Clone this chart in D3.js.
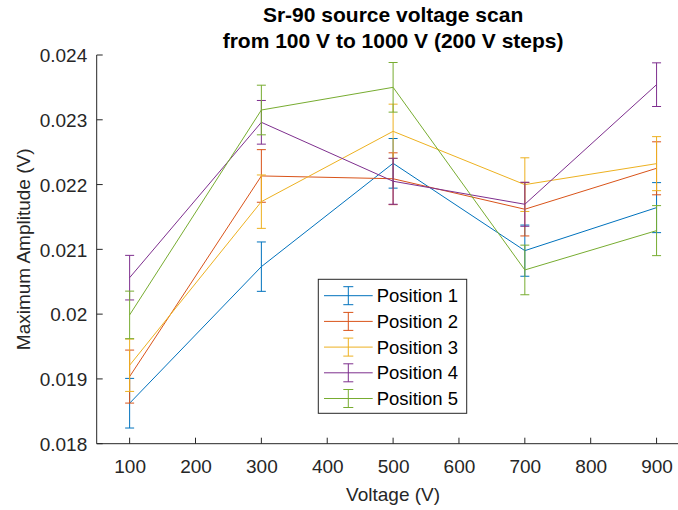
<!DOCTYPE html>
<html>
<head>
<meta charset="utf-8">
<script src="https://cdn.jsdelivr.net/npm/d3@7"></script>
<style>
  html, body { margin: 0; padding: 0; background: #fff; }
  svg { display: block; font-family: "Liberation Sans", Arial, Helvetica, sans-serif; }
</style>
</head>
<body>
<svg id="chart" width="678" height="510"></svg>
<script>
// ---- data ----
const voltages = [100, 300, 500, 700, 900];
const seriesNames = ["Position 1", "Position 2", "Position 3", "Position 4", "Position 5"];
const pos1 = [0.018625, 0.020733, 0.022328, 0.020980, 0.021644];
const err1 = [0.000383, 0.000381, 0.000383, 0.000395, 0.000386];
const pos2 = [0.019036, 0.022133, 0.022090, 0.021619, 0.022251];
const err2 = [0.000409, 0.000406, 0.000400, 0.000412, 0.000409];
const pos3 = [0.019211, 0.021736, 0.022822, 0.021999, 0.022323];
const err3 = [0.000404, 0.000412, 0.000419, 0.000414, 0.000417];
const pos4 = [0.020563, 0.022961, 0.022051, 0.021696, 0.023542];
const err4 = [0.000344, 0.000337, 0.000355, 0.000340, 0.000337];
const pos5 = [0.019988, 0.023151, 0.023501, 0.020682, 0.021289];
const err5 = [0.000367, 0.000383, 0.000383, 0.000383, 0.000386];
const xTicks = [100, 200, 300, 400, 500, 600, 700, 800, 900];
const yTicks = [0.018, 0.019, 0.020, 0.021, 0.022, 0.023, 0.024];
const yTickLabels = ["0.018", "0.019", "0.02", "0.021", "0.022", "0.023", "0.024"];
const colors = ["#0072BD", "#D95319", "#EDB120", "#7E2F8E", "#77AC30"];
const titleLines = ["Sr-90 source voltage scan", "from 100 V to 1000 V (200 V steps)"];
const xLabel = "Voltage (V)";
const yLabel = "Maximum Amplitude (V)";

(function () {
const values = [pos1, pos2, pos3, pos4, pos5];
const errors = [err1, err2, err3, err4, err5];
const series = seriesNames.map((name, i) => ({
  name, color: colors[i],
  pts: voltages.map((v, j) => ({ x: v, y: values[i][j], e: errors[i][j] }))
}));

// ---- layout ----
const svg = d3.select("#chart");
const pL = 96.7, pR = 689.5, pT = 55, pB = 443.7;
const axisColor = "#262626";
const x = d3.scaleLinear().domain([50, 950]).range([pL, pR]);
const y = d3.scaleLinear().domain([0.018, 0.024]).range([pB, pT]);

// axes
const xAxis = d3.axisBottom(x).tickValues(xTicks).tickSize(0).tickPadding(0).tickFormat(d3.format("d"));
const gx = svg.append("g").attr("transform", `translate(0,${pB})`).call(xAxis);
gx.select(".domain").remove();
gx.selectAll("text").attr("fill", axisColor).attr("font-size", 19).attr("dy", null).attr("y", 29);

const yAxis = d3.axisLeft(y).tickValues(yTicks).tickSize(0).tickPadding(0)
  .tickFormat((d, i) => yTickLabels[i]);
const gy = svg.append("g").attr("transform", `translate(${pL},0)`).call(yAxis);
gy.select(".domain").remove();
gy.selectAll("text").attr("fill", axisColor).attr("font-size", 19).attr("x", -9.5).attr("dy", "0.35em");

// tick marks (inward)
svg.append("g").selectAll("line").data(xTicks).join("line")
  .attr("x1", d => x(d)).attr("x2", d => x(d))
  .attr("y1", pB).attr("y2", pB - 6)
  .attr("stroke", axisColor).attr("stroke-width", 1);
svg.append("g").selectAll("line").data(yTicks).join("line")
  .attr("x1", pL).attr("x2", pL + 6)
  .attr("y1", d => y(d)).attr("y2", d => y(d))
  .attr("stroke", axisColor).attr("stroke-width", 1);

// axis lines
svg.append("line").attr("x1", pL).attr("x2", pL).attr("y1", pT).attr("y2", pB)
  .attr("stroke", axisColor).attr("stroke-width", 1);
svg.append("line").attr("x1", pL).attr("x2", pR).attr("y1", pB).attr("y2", pB)
  .attr("stroke", axisColor).attr("stroke-width", 1);

// series
const line = d3.line().x(d => x(d.x)).y(d => y(d.y));
const capW = 4.5;
series.forEach(s => {
  const g = svg.append("g");
  g.append("path").attr("d", line(s.pts)).attr("fill", "none")
    .attr("stroke", s.color).attr("stroke-width", 1);
  s.pts.forEach(p => {
    const cx = x(p.x), yt = y(p.y + p.e), yb = y(p.y - p.e);
    g.append("line").attr("x1", cx).attr("x2", cx).attr("y1", yt).attr("y2", yb)
      .attr("stroke", s.color).attr("stroke-width", 1);
    [yt, yb].forEach(yy => g.append("line").attr("x1", cx - capW).attr("x2", cx + capW)
      .attr("y1", yy).attr("y2", yy).attr("stroke", s.color).attr("stroke-width", 1));
  });
});

// title
svg.append("g").selectAll("text").data(titleLines).join("text")
  .attr("x", (pL + pR) / 2).attr("y", (d, i) => 22 + i * 25.5)
  .attr("text-anchor", "middle").attr("font-weight", "bold").attr("font-size", 21)
  .attr("fill", "#000").text(d => d);

// axis labels
svg.append("text").attr("x", (pL + pR) / 2).attr("y", 501)
  .attr("text-anchor", "middle").attr("font-size", 19).attr("fill", axisColor).text(xLabel);
svg.append("text").attr("transform", `translate(30,${(pT + pB) / 2}) rotate(-90)`)
  .attr("text-anchor", "middle").attr("font-size", 19).attr("fill", axisColor).text(yLabel);

// legend
const lg = svg.append("g");
const lx = 318.3, ly = 279.3, lw = 148.4, lh = 134;
lg.append("rect").attr("x", lx).attr("y", ly).attr("width", lw).attr("height", lh)
  .attr("fill", "#fff").attr("stroke", axisColor).attr("stroke-width", 1);
series.forEach((s, i) => {
  const ry = 295.7 + i * 25.7;
  lg.append("line").attr("x1", 324).attr("x2", 372.7).attr("y1", ry).attr("y2", ry)
    .attr("stroke", s.color).attr("stroke-width", 1);
  lg.append("line").attr("x1", 348.3).attr("x2", 348.3).attr("y1", ry - 9).attr("y2", ry + 9)
    .attr("stroke", s.color).attr("stroke-width", 1);
  [ry - 9, ry + 9].forEach(yy => lg.append("line").attr("x1", 343.3).attr("x2", 353.3)
    .attr("y1", yy).attr("y2", yy).attr("stroke", s.color).attr("stroke-width", 1));
  lg.append("text").attr("x", 376.7).attr("y", ry).attr("dy", "0.35em")
    .attr("font-size", 18.5).attr("fill", "#000").text(s.name);
});
})();
</script>
</body>
</html>
